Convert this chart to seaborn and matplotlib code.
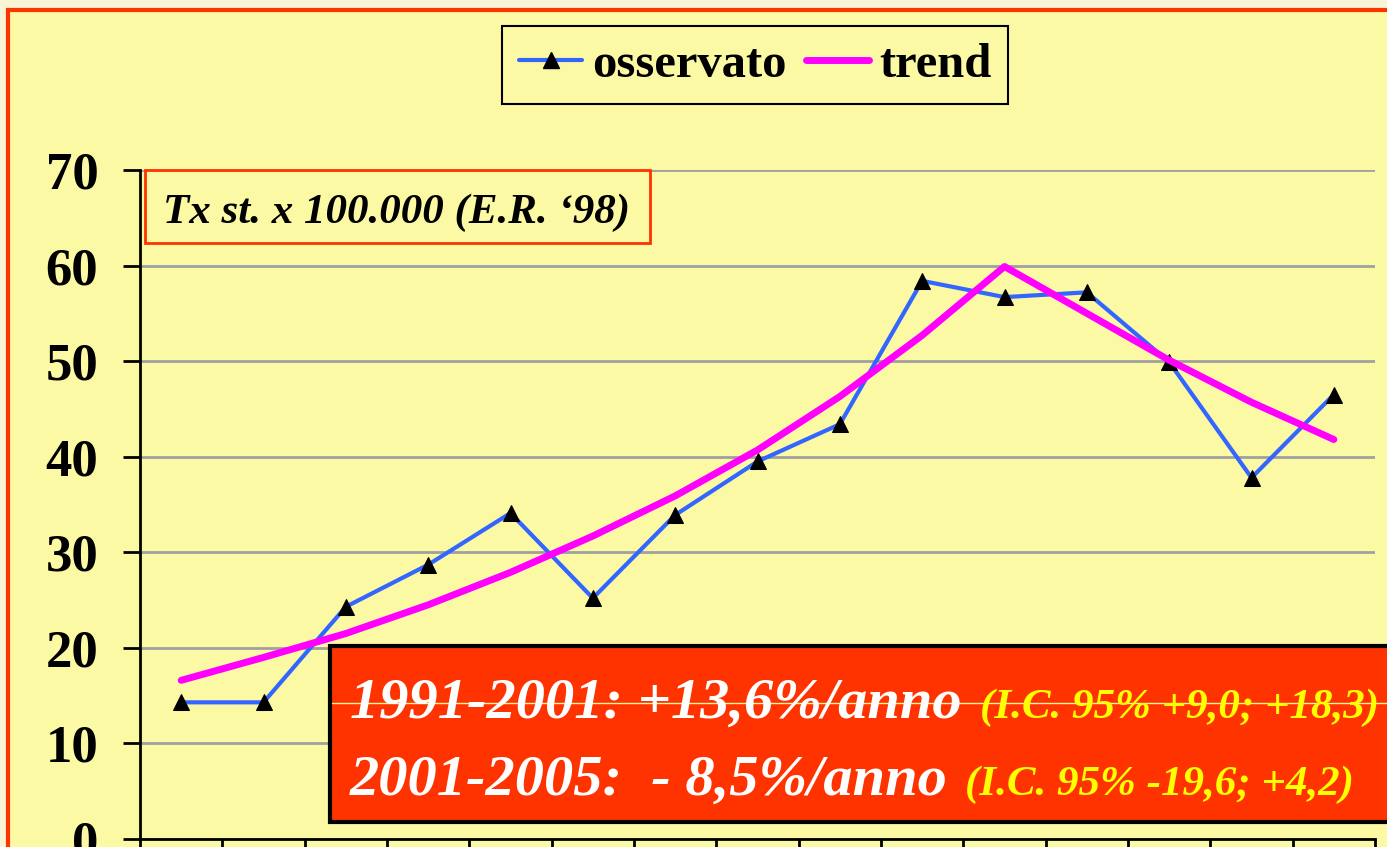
import matplotlib
matplotlib.use('Agg')
import matplotlib.pyplot as plt
import seaborn as sns
import pandas as pd
from matplotlib.patches import Rectangle
from matplotlib.lines import Line2D

# data
anni = list(range(1991, 2006))
osservato = [14.3, 14.3, 24.3, 28.7, 34.1, 25.2, 33.9, 39.5, 43.4, 58.4, 56.7, 57.2, 49.9, 37.8, 46.5]
trend = [16.6, 19.0, 21.5, 24.5, 27.9, 31.7, 35.9, 40.7, 46.3, 52.7, 59.9, 55.0, 50.1, 45.7, 41.8]
y_ticks = [0, 10, 20, 30, 40, 50, 60, 70]

nota = "Tx st. x 100.000 (E.R. \u201898)"
riga1 = "1991-2001: +13,6%/anno"
ic1 = "(I.C. 95% +9,0; +18,3)"
riga2 = "2001-2005:  - 8,5%/anno"
ic2 = "(I.C. 95% -19,6; +4,2)"

W, H = 1387, 847
YELLOW = '#FCF9A5'
ORANGE = '#FF3300'

sns.set_theme(style='white')
plt.rcParams['font.family'] = ['Liberation Serif', 'DejaVu Serif']
plt.rcParams['text.color'] = 'black'
plt.rcParams['ytick.color'] = 'black'
plt.rcParams['xtick.color'] = 'black'

fig = plt.figure(figsize=(W / 100, H / 100), dpi=100)
fig.patch.set_facecolor('#F8F5D6')
# yellow slide panel with orange frame (right/bottom edges fall outside)
fig.patches.append(Rectangle((8 / W, -0.1), 1.2, 1.1 - 10 / H, transform=fig.transFigure,
                             facecolor=YELLOW, edgecolor=ORANGE, linewidth=3, zorder=-5))

ax = fig.add_axes([140 / W, 1 - 839 / H, (1375 - 140) / W, (839 - 170) / H])
ax.set_facecolor('none')
ax.set_zorder(1)

df = pd.DataFrame({'anno': anni, 'osservato': osservato, 'trend': trend})
sns.lineplot(data=df, x='anno', y='osservato', color='#3366FF', lw=3, marker='^',
             markersize=12, markerfacecolor='black', markeredgecolor='black', ax=ax, zorder=3)
sns.lineplot(data=df, x='anno', y='trend', color='#FF00FF', lw=5, ax=ax, zorder=4)

ax.set_ylim(0, 70)
ax.set_yticks(y_ticks)
ax.set_xlim(anni[0] - 0.5, anni[-1] + 0.5)
ax.set_xticks([a - 0.5 for a in anni] + [anni[-1] + 0.5])
ax.set_xticklabels([])
ax.set_xlabel('')
ax.set_ylabel('')
ax.yaxis.grid(True, color='#A0A0A0', lw=2)
ax.set_axisbelow(True)
for s in ['top', 'right']:
    ax.spines[s].set_visible(False)
for s in ['left', 'bottom']:
    ax.spines[s].set_color('black')
    ax.spines[s].set_linewidth(2)
ax.tick_params(axis='y', direction='out', length=12, width=2, color='black', pad=18,
               labelsize=38, labelcolor='black', left=True)
ax.tick_params(axis='x', direction='out', length=20, width=2, color='black', bottom=True)
for lab in ax.get_yticklabels():
    lab.set_fontweight('bold')

# legend
handles = [Line2D([], [], color='#3366FF', lw=3, marker='^', markersize=12,
                  markerfacecolor='black', markeredgecolor='black'),
           Line2D([], [], color='#FF00FF', lw=5)]
leg = fig.legend(handles, ['osservato', 'trend'], loc='center', ncol=2,
                 bbox_to_anchor=(755 / W, 1 - 65 / H),
                 prop={'weight': 'bold', 'size': 35}, frameon=True, fancybox=False,
                 framealpha=1, facecolor=YELLOW, edgecolor='black',
                 handlelength=1.3, handletextpad=0.2, columnspacing=0.4,
                 borderpad=0.35, borderaxespad=0)
leg.get_frame().set_linewidth(1.5)
for t in leg.get_texts():
    t.set_color('black')

# note box
fig.patches.append(Rectangle((145 / W, 1 - 243 / H), (650 - 145) / W, (243 - 170) / H,
                             transform=fig.transFigure, facecolor=YELLOW,
                             edgecolor=ORANGE, linewidth=2, zorder=5))
fig.text(163 / W, 1 - 223 / H, nota, fontsize=31, style='italic', weight='bold',
         color='black', va='baseline', zorder=6)

# red result box
fig.patches.append(Rectangle((330 / W, 1 - 822 / H), 1.2, (822 - 646) / H,
                             transform=fig.transFigure, facecolor=ORANGE,
                             edgecolor='black', linewidth=3, zorder=7))
fig.lines.append(Line2D([332 / W, 1], [1 - 703 / H] * 2, transform=fig.transFigure,
                        color='#FFF3A0', lw=1, zorder=8))
fig.text(350 / W, 1 - 718 / H, riga1, fontsize=42, style='italic', weight='bold',
         color='white', va='baseline', zorder=9)
fig.text(980 / W, 1 - 718 / H, ic1, fontsize=31, style='italic', weight='bold',
         color='#FFFF00', va='baseline', zorder=9)
fig.text(350 / W, 1 - 795 / H, riga2, fontsize=42, style='italic', weight='bold',
         color='white', va='baseline', zorder=9)
fig.text(965 / W, 1 - 795 / H, ic2, fontsize=31, style='italic', weight='bold',
         color='#FFFF00', va='baseline', zorder=9)

fig.savefig('out.png', dpi=100)
